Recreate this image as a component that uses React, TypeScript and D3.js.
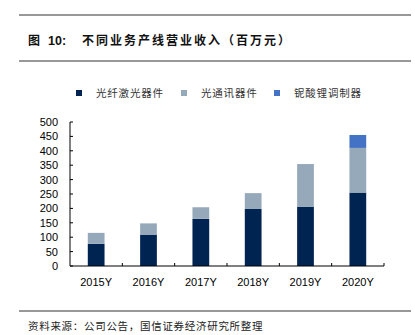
import React from "react";
import * as d3 from "d3";

const years = ["2015Y", "2016Y", "2017Y", "2018Y", "2019Y", "2020Y"];
const fiberLaser = [77, 109, 164, 198, 205, 255];
const opticalComm = [38, 39, 40, 55, 149, 155];
const niobate = [0, 0, 0, 0, 0, 45];
const seriesNames = ["光纤激光器件", "光通讯器件", "铌酸锂调制器"];
const colors = ["#002452", "#96a9ba", "#4472c4"];
const yTicks = [0, 50, 100, 150, 200, 250, 300, 350, 400, 450, 500];

export default function App() {
  const W = 415, H = 335;
  const x0 = 70, x1 = 384, yTop = 122, yBot = 266;
  const x = d3.scaleBand<string>().domain(years).range([x0, x1]).paddingInner(0.68).paddingOuter(0.34);
  const xb = d3.scaleBand<string>().domain(years).range([x0, x1]);
  const y = d3.scaleLinear().domain([0, 500]).range([yBot, yTop]);
  const table = years.map((yr, i) => ({ yr, a: fiberLaser[i], b: opticalComm[i], c: niobate[i] }));
  const stack = d3.stack<any>().keys(["a", "b", "c"])(table);
  const sans = "'Liberation Sans', Arial, sans-serif";
  const cjk = "'Noto Sans CJK SC', sans-serif";
  const legendX = [76, 181, 274];
  return (
    <svg width={W} height={H} style={{ position: "absolute", left: 0, top: 0, background: "#fff" }}>
      <line x1={19} x2={411} y1={15} y2={15} stroke="#333" strokeWidth={1} />
      <line x1={19} x2={411} y1={61} y2={61} stroke="#333" strokeWidth={1} />
      <text x={28} y={45} fontFamily={cjk} fontSize={12} fontWeight="bold" fill="#111">图</text>
      <text x={48} y={45} fontFamily={sans} fontSize={12.5} fontWeight="bold" fill="#111">10:</text>
      <text x={82} y={45} fontFamily={cjk} fontSize={12} fontWeight="bold" fill="#111" letterSpacing={2}>
        不同业务产线营业收入（百万元）
      </text>
      {seriesNames.map((n, i) => (
        <g key={n}>
          <rect x={legendX[i]} y={90} width={6} height={6} fill={colors[i]} />
          <text x={legendX[i] + 20} y={97} fontFamily={cjk} fontSize={10.5} fill="#333" letterSpacing={0.8}>{n}</text>
        </g>
      ))}
      {stack.map((s, si) => (
        <g key={si}>
          {s.map((d: any, i: number) =>
            d[1] - d[0] > 0 ? (
              <rect key={i} x={x(years[i])} width={x.bandwidth()} y={y(d[1])} height={y(d[0]) - y(d[1])}
                fill={colors[si]} />
            ) : null
          )}
        </g>
      ))}
      <line x1={x0} x2={x0} y1={yTop} y2={yBot} stroke="#000" />
      <line x1={x0} x2={x1} y1={yBot} y2={yBot} stroke="#000" />
      {yTicks.map((t) => (
        <g key={t}>
          <line x1={x0} x2={x0 + 3} y1={y(t)} y2={y(t)} stroke="#000" />
          <text x={58} y={y(t) + 4} textAnchor="end" fontFamily={sans} fontSize={11} fill="#000">{t}</text>
        </g>
      ))}
      {years.map((yr) => (
        <g key={yr}>
          <line x1={(xb(yr) as number) + xb.bandwidth()} x2={(xb(yr) as number) + xb.bandwidth()} y1={yBot} y2={yBot - 3} stroke="#000" />
          <text x={(xb(yr) as number) + xb.bandwidth() / 2} y={286} textAnchor="middle" fontFamily={sans} fontSize={11} fill="#000">{yr}</text>
        </g>
      ))}
      <line x1={19} x2={411} y1={311} y2={311} stroke="#333" strokeWidth={1} />
      <text x={28} y={330} fontFamily={cjk} fontSize={10.5} fill="#222" letterSpacing={0.7}>资料来源：公司公告，国信证券经济研究所整理</text>
    </svg>
  );
}
